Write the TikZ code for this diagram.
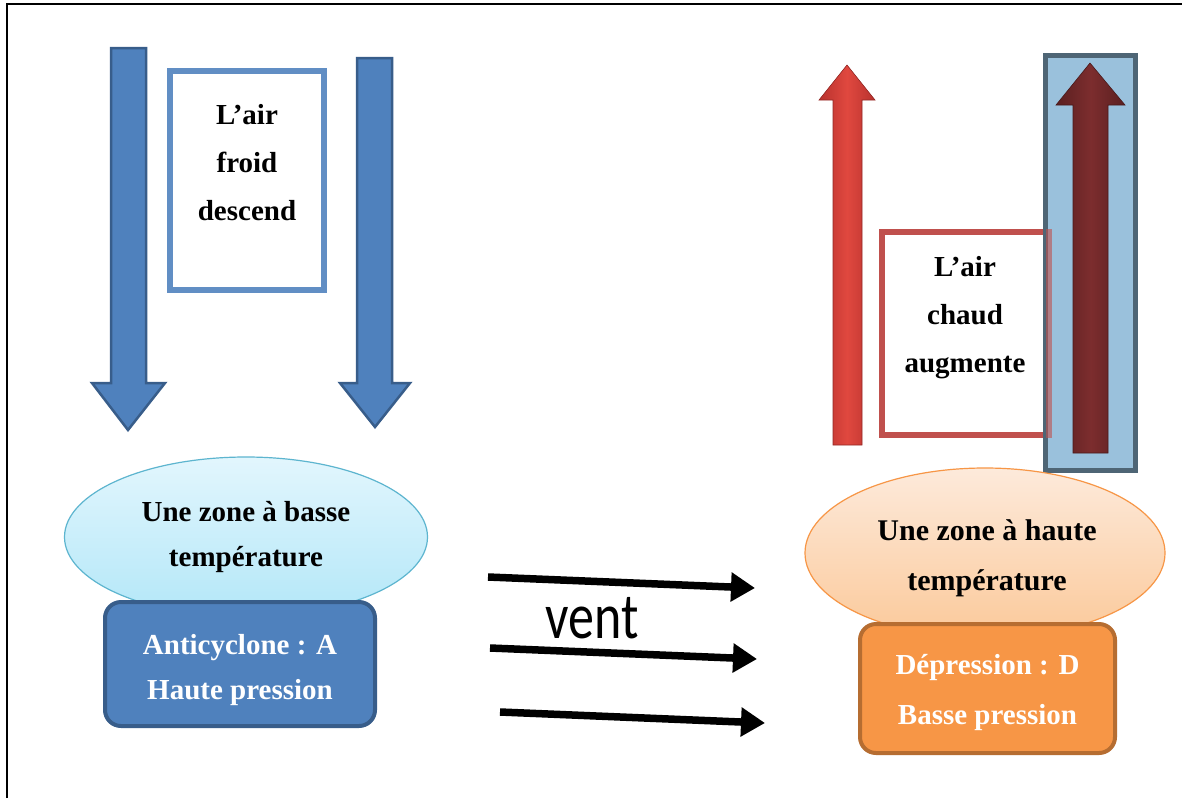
\documentclass[tikz,border=0pt]{standalone}
\usepackage{fontspec}
\setmainfont{Liberation Serif}
\newfontfamily\ventfont{Carlito}
\usetikzlibrary{arrows.meta,shapes.geometric}
\definecolor{bluefill}{HTML}{4F81BD}
\definecolor{blueedge}{HTML}{385D8A}
\definecolor{rededge}{HTML}{C0504D}
\definecolor{orangefill}{HTML}{F79646}
\definecolor{orangeedge}{HTML}{B66D31}
\definecolor{steelfill}{HTML}{9AC1DC}
\definecolor{steeledge}{HTML}{4E6575}
\definecolor{cyantop}{HTML}{E2F6FD}
\definecolor{cyanbot}{HTML}{B3E7F8}
\definecolor{cyanedge}{HTML}{5DB5CF}
\definecolor{peachtop}{HTML}{FDEADB}
\definecolor{peachbot}{HTML}{FBC99A}
\definecolor{redmid}{HTML}{E0483F}
\definecolor{redside}{HTML}{B8322E}
\definecolor{darkmid}{HTML}{7C2D2E}
\definecolor{darkside}{HTML}{5A1F20}
\tikzset{
  x=1pt, y=-1pt,
  lbl/.style={font=\fontsize{29}{48}\selectfont\bfseries, align=center, inner sep=0pt},
  wlbl/.style={font=\fontsize{29}{45}\selectfont\bfseries, align=center, inner sep=0pt, text=white},
  downarrow/.style={fill=bluefill, draw=blueedge, line width=2.5pt, line join=miter},
  textbox/.style={draw, line width=6pt, fill=white, inner sep=0pt},
  zone/.style={ellipse, inner sep=0pt, line width=1.2pt, font=\fontsize{29}{45}\selectfont\bfseries, align=center},
  pressbox/.style={rounded corners=16pt, line width=4pt, inner sep=0pt},
  wind/.style={line width=7.5pt, -{Triangle[length=24pt,width=28pt]}}
}
\begin{document}
\begin{tikzpicture}
\useasboundingbox (0,0) rectangle (1182,798);
\fill[white] (0,0) rectangle (1182,798);
% frame
\draw[line width=2pt] (7,798) -- (7,4) -- (1182,4);

% left down arrows
\draw[downarrow] (111,48) -- (146,48) -- (146,383) -- (165,383) -- (128,430) -- (92,383) -- (111,383) -- cycle;
\draw[downarrow] (357,58) -- (392,58) -- (392,383) -- (410,383) -- (375,427) -- (340,383) -- (357,383) -- cycle;

% cold air box
\node[textbox, draw=bluefill!90!white, minimum width=154pt, minimum height=219pt] (froidbox) at (247,180.5) {};
\node[lbl] (froidtxt) at (247,163) {L’air\\froid\\descend};

% left zone
\node[zone, top color=cyantop, bottom color=cyanbot, draw=cyanedge, minimum width=363pt, minimum height=160pt] (zonebasse) at (246,537) {Une zone à basse\\température};
\node[pressbox, fill=bluefill, draw=blueedge, minimum width=270pt, minimum height=124pt] (anti) at (240,664) {};
\node[wlbl] (antitxt) at (240,670) {Anticyclone : A\\Haute pression};

% wind arrows
\coordinate (w1s) at (488,577); \coordinate (w1e) at (755,588);
\coordinate (w2s) at (490,648); \coordinate (w2e) at (757,659);
\coordinate (w3s) at (500,712); \coordinate (w3e) at (765,723);
\draw[wind] (w1s) -- (w1e);
\draw[wind] (w2s) -- (w2e);
\draw[wind] (w3s) -- (w3e);
\node[inner sep=0pt] (vent) at (592,618) {\scalebox{1}[1.25]{\fontsize{52}{52}\ventfont vent}};

% right red arrow
\shade[left color=redside, right color=redside, middle color=redmid, draw=redside!80!black, line width=0.6pt]
  (833,445) -- (862,445) -- (862,100) -- (875,100) -- (847,65) -- (819,100) -- (833,100) -- cycle;

% warm air box
\node[textbox, draw=rededge, minimum width=167pt, minimum height=203pt] (chaudbox) at (965.5,333.5) {};
\node[lbl] (chaudtxt) at (965,318) {L’air\\chaud\\augmente};

% steel rectangle with dark arrow
\node[fill=steelfill, draw=steeledge, line width=5pt, minimum width=90pt, minimum height=415pt, inner sep=0pt] (steel) at (1090.5,263) {};
\draw[rededge, opacity=0.6, line width=6pt] ([xshift=-3pt]chaudbox.north east) -- ([xshift=-3pt]chaudbox.south east);
\shade[left color=darkside, right color=darkside, middle color=darkmid, draw=darkside!80!black, line width=0.6pt]
  (1073,453) -- (1108,453) -- (1108,105) -- (1125,105) -- (1090,63) -- (1056,105) -- (1073,105) -- cycle;

% right zone
\node[zone, top color=peachtop, bottom color=peachbot, draw=orangefill, minimum width=360pt, minimum height=170pt] (zonehaute) at (985,553) {};
\node[lbl, font=\fontsize{30}{50}\selectfont\bfseries] (zonehautetxt) at (987,558) {Une zone à haute\\température};
\node[pressbox, fill=orangefill, draw=orangeedge, minimum width=255pt, minimum height=129pt] (dep) at (987.5,688.5) {};
\node[wlbl, font=\fontsize{29}{50}\selectfont\bfseries] (deptxt) at (987.5,692) {Dépression : D\\Basse pression};
\end{tikzpicture}
\end{document}
